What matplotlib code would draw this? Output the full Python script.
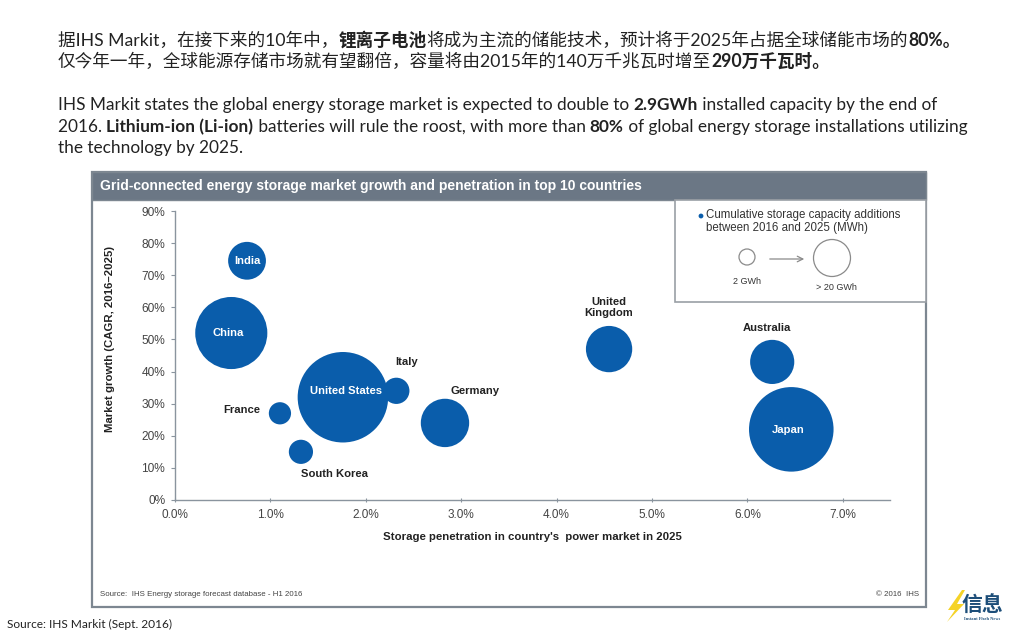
import numpy as np
import matplotlib
matplotlib.use("Agg")
import matplotlib.pyplot as plt
from matplotlib.patches import Rectangle, Circle, Polygon

W, H = 1024, 640

countries = ["India", "China", "United States", "Italy", "France", "South Korea",
             "Germany", "United Kingdom", "Australia", "Japan"]
penetration = [0.755, 0.59, 1.76, 2.32, 1.10, 1.32, 2.83, 4.55, 6.26, 6.46]
growth = [74.5, 52, 32, 34, 27, 15, 24, 47, 43, 22]
capacity_gwh = [11, 40, 63, 5.3, 3.8, 4.5, 18, 16.5, 15, 55]

x_ticks = [0, 1, 2, 3, 4, 5, 6, 7]
y_ticks = [0, 10, 20, 30, 40, 50, 60, 70, 80, 90]

title = "Grid-connected energy storage market growth and penetration in top 10 countries"
x_label = "Storage penetration in country's  power market in 2025"
y_label = "Market growth (CAGR, 2016\u20132025)"

zh_1 = [("据IHS Markit\uff0c在接下来的10年中\uff0c", False), ("锂离子电池", True),
        ("将成为主流的储能技术\uff0c预计将于2025年占据全球储能市场的", False), ("80%。", True)]
zh_2 = [("仅今年一年\uff0c全球能源存储市场就有望翻倍\uff0c容量将由2015年的140万千兆瓦时增至", False),
        ("290万千瓦时。", True)]
en_1 = [("IHS Markit states the global energy storage market is expected to double to ", False),
        ("2.9GWh", True), (" installed capacity by the end of", False)]
en_2 = [("2016. ", False), ("Lithium-ion (Li-ion)", True),
        (" batteries will rule the roost, with more than ", False), ("80%", True),
        (" of global energy storage installations utilizing", False)]
en_3 = [("the technology by 2025.", False)]

BLUE = "#0a5dab"
HEADER = "#6b7785"
FRAME = "#7d8791"
TEXT = "#222222"
body_font = ["Lato", "Noto Sans CJK SC", "DejaVu Sans"]
chart_font = ["Liberation Sans", "DejaVu Sans"]

fig = plt.figure(figsize=(W / 100, H / 100), dpi=100, facecolor="white")

# background layer in pixel coords
bg = fig.add_axes([0, 0, 1, 1], zorder=0)
bg.set_xlim(0, W)
bg.set_ylim(H, 0)
bg.axis("off")


def draw_runs(x, y, runs, size):
    renderer = fig.canvas.get_renderer()
    for txt, bold in runs:
        t = bg.text(x, y, txt, fontsize=size, family=body_font, color=TEXT, va="center", ha="left",
                    fontweight="bold" if bold else "normal")
        # trailing spaces count, so measure with a stand-in at the end
        t.set_text(txt.replace(" ", "\u00a0"))
        bbox = t.get_window_extent(renderer)
        x += bbox.width


draw_runs(58, 40, zh_1, 12.7)
draw_runs(58, 61, zh_2, 12.7)
draw_runs(58, 105, en_1, 12.4)
draw_runs(58, 127, en_2, 12.4)
draw_runs(58, 148, en_3, 12.4)

# chart frame, header and legend box
bg.add_patch(Rectangle((92, 172), 834, 435, fc="white", ec=FRAME, lw=1.6))
bg.add_patch(Rectangle((92, 172), 834, 28, fc=HEADER, ec=FRAME, lw=1))
bg.text(100, 186, title, fontsize=10, family=chart_font, fontweight="bold", color="white",
        va="center", ha="left")
bg.add_patch(Rectangle((675, 200), 251, 102, fc="white", ec="#9a9fa5", lw=1.2))
bg.add_patch(Circle((701, 216), 2.4, fc=BLUE, ec="none"))
bg.text(706, 215, "Cumulative storage capacity additions", fontsize=8.3, family=chart_font,
        color="#333333", va="center")
bg.text(706, 228, "between 2016 and 2025 (MWh)", fontsize=8.3, family=chart_font,
        color="#333333", va="center")
bg.add_patch(Circle((747, 257), 8, fc="white", ec="#8a8a8a", lw=0.9))
bg.add_patch(Circle((832, 258), 18.5, fc="white", ec="#8a8a8a", lw=0.9))
bg.annotate("", xy=(807, 259), xytext=(767, 259),
            arrowprops=dict(arrowstyle="->", color="#8a8a8a", lw=0.9))
bg.text(747, 282, "2 GWh", fontsize=6.5, family=chart_font, color="#333333", ha="center", va="center")
bg.text(836, 288, "> 20 GWh", fontsize=6.5, family=chart_font, color="#333333", ha="center", va="center")

bg.text(100, 595, "Source:  IHS Energy storage forecast database - H1 2016", fontsize=5.7,
        family=chart_font, color="#444444", va="center")
bg.text(919, 595, "\u00a9 2016  IHS", fontsize=5.7, family=chart_font, color="#444444",
        va="center", ha="right")
bg.text(7, 624, "Source: IHS Markit (Sept. 2016)", fontsize=8.6, family=body_font, color=TEXT, va="center")

# logo
bg.add_patch(Polygon([(962, 590), (948, 610), (955, 610), (947, 622), (964, 604), (957, 604), (965, 590)],
                     fc="#f5d327", ec="none"))
bg.text(982, 605, "信息", fontsize=15, family=["Noto Sans CJK SC"], fontweight="bold",
        color="#1d4e79", ha="center", va="center")
bg.text(982, 619, "Instant Flash News", fontsize=3.2, family=["Liberation Serif"], fontweight="bold",
        color="#1d4e79", ha="center", va="center")

# the chart itself
x0, x_end, y0, y_top = 175, 890, 500, 211
ax = fig.add_axes([x0 / W, 1 - y0 / H, (x_end - x0) / W, (y0 - y_top) / H], zorder=1)
ax.patch.set_alpha(0)
ax.set_xlim(0, (x_end - x0) / 95.4)
ax.set_ylim(0, 90)

sizes = (np.sqrt(capacity_gwh) * 5.7 * 2 * 0.72) ** 2
ax.scatter(penetration, growth, s=sizes, color=BLUE, linewidths=0, clip_on=False)

for spine in ["top", "right"]:
    ax.spines[spine].set_visible(False)
for spine in ["left", "bottom"]:
    ax.spines[spine].set_color("#8a949e")
    ax.spines[spine].set_linewidth(1)

ax.set_xticks(x_ticks)
ax.set_xticklabels(["%.1f%%" % v for v in x_ticks])
ax.set_yticks(y_ticks)
ax.set_yticklabels(["%d%%" % v for v in y_ticks])
ax.tick_params(axis="x", length=3, width=0.8, color="#8a949e", labelsize=8.5, labelcolor="#444444", pad=5, direction="inout")
ax.tick_params(axis="y", length=3, width=0.8, color="#8a949e", labelsize=8.6, labelcolor="#444444", pad=4, direction="out")
for lab in ax.get_xticklabels() + ax.get_yticklabels():
    lab.set_family(chart_font)

ax.set_xlabel(x_label, fontsize=8.2, fontweight="bold", family=chart_font, color="#222222")
ax.xaxis.set_label_coords((532 - x0) / (x_end - x0), -32 / (y0 - y_top))
ax.set_ylabel(y_label, fontsize=8.2, fontweight="bold", family=chart_font, color="#222222")
ax.yaxis.set_label_coords((115 - x0) / (x_end - x0), (y0 - 339) / (y0 - y_top))

# labels, white inside the bubble, dark beside it
white_labels = {"India": (0.755, 74.5), "China": (0.56, 52), "United States": (1.795, 34), "Japan": (6.43, 21.7)}
dark_labels = {"Italy": (2.43, 43), "France": (0.70, 28), "South Korea": (1.67, 8),
               "Germany": (3.14, 34), "United\nKingdom": (4.55, 60), "Australia": (6.20, 53.5)}
for name, (lx, ly) in white_labels.items():
    ax.text(lx, ly, name, color="white", fontsize=8.1, fontweight="bold", family=chart_font,
            ha="center", va="center")
for name, (lx, ly) in dark_labels.items():
    ax.text(lx, ly, name, color="#222222", fontsize=8.1, fontweight="bold", family=chart_font,
            ha="center", va="center", linespacing=1.2)

fig.savefig("out.png", dpi=100)
